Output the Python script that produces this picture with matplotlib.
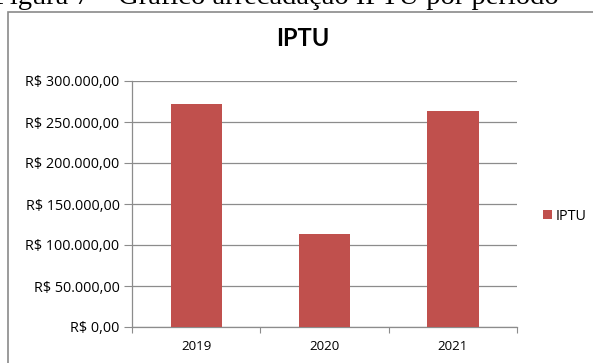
import matplotlib
matplotlib.use('Agg')
import matplotlib.pyplot as plt
from matplotlib.patches import Rectangle

anos = ['2019', '2020', '2021']
arrecadacao = [272000, 114000, 264000]
ticks_y = [0, 50000, 100000, 150000, 200000, 250000, 300000]

def reais(v):
    s = f'{v:,.2f}'.replace(',', 'X').replace('.', ',').replace('X', '.')
    return 'R$ ' + s

W, H = 593, 363
fig = plt.figure(figsize=(W / 100, H / 100), dpi=100)
plt.rcParams['font.family'] = ['Open Sans', 'DejaVu Sans']
fs = 10.4

# moldura do grafico
fig.patches.append(Rectangle((8 / W, -0.1), 1.0, (H - 12) / H + 0.1, transform=fig.transFigure,
                             fill=False, edgecolor='#8a8a8a', linewidth=1.2))

# legenda da figura (cortada no topo)
fig.text(-6 / W, 1 - 4 / H, 'Figura 7 – Gráfico arrecadação IPTU por período',
         family='Liberation Serif', fontsize=20.5, va='baseline', ha='left')

ax = fig.add_axes([132 / W, (H - 327) / H, 385 / W, 246 / H])
x = range(len(anos))
ax.bar(x, arrecadacao, width=0.4, color='#C0504D', label='IPTU', zorder=3)

ax.set_xlim(-0.5, 2.5)
ax.set_ylim(0, 300000)
ax.set_yticks(ticks_y)
ax.set_yticklabels([reais(v) for v in ticks_y], fontsize=fs)
ax.yaxis.grid(True, color='#8c8c8c', linewidth=0.9, zorder=0)

ax.set_xticks([-0.5, 0.5, 1.5, 2.5])
ax.set_xticklabels([])
ax.set_xticks(list(x), minor=True)
ax.set_xticklabels(anos, minor=True, fontsize=9.6)
ax.tick_params(axis='x', which='minor', length=0, pad=9)
ax.tick_params(axis='x', which='major', length=4, color='#8c8c8c', direction='out')
ax.tick_params(axis='y', length=5.5, color='#8c8c8c', pad=3.5)

for s in ['top', 'right']:
    ax.spines[s].set_visible(False)
for s in ['left', 'bottom']:
    ax.spines[s].set_color('#8c8c8c')
    ax.spines[s].set_linewidth(0.9)

fig.text(303 / W, 1 - 39 / H, 'IPTU', family='Lato', fontsize=17, fontweight='bold',
         ha='center', va='center')

ax.legend(loc='center left', bbox_to_anchor=(530 / W, 1 - 216 / H), bbox_transform=fig.transFigure,
          frameon=False, fontsize=fs, handlelength=0.6, handleheight=0.6, handletextpad=0.25)

fig.savefig('out.png', dpi=100)
